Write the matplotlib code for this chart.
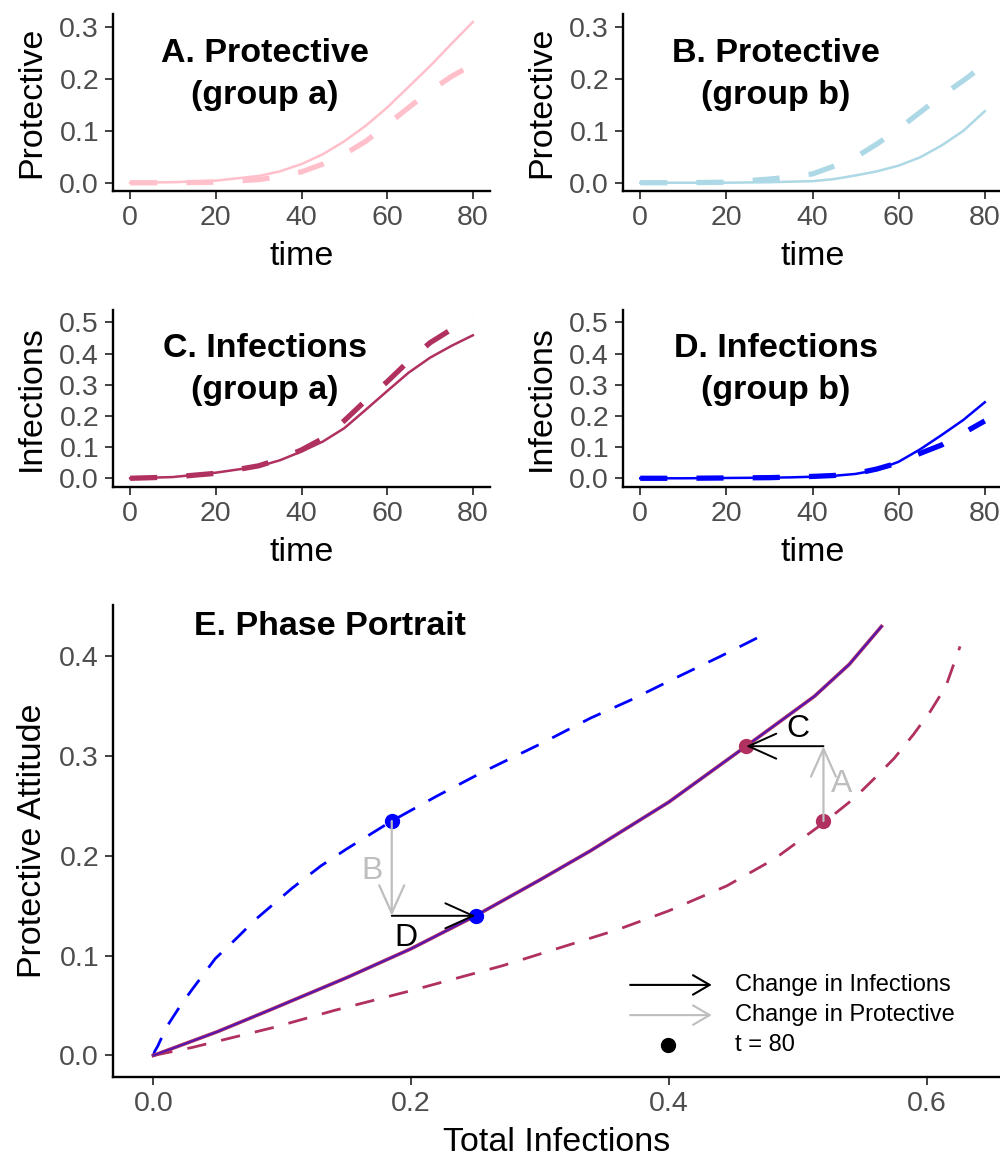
import matplotlib
matplotlib.use('Agg')
import matplotlib.pyplot as plt
from matplotlib.ticker import FormatStrFormatter

plt.rcParams['font.family'] = ['Liberation Sans', 'DejaVu Sans']
plt.rcParams['lines.scale_dashes'] = False

# time-course panels
t = [0, 10, 20, 30, 35, 40, 45, 50, 55, 60, 65, 70, 75, 80]
prot_a = [0, 0.001, 0.004, 0.013, 0.022, 0.036, 0.055, 0.08, 0.11, 0.145, 0.185, 0.225, 0.268, 0.31]
prot_a_dash = [0, 0.0, 0.001, 0.006, 0.012, 0.021, 0.036, 0.055, 0.08, 0.112, 0.145, 0.177, 0.205, 0.228]
prot_b = [0, 0, 0, 0.001, 0.002, 0.003, 0.007, 0.014, 0.022, 0.033, 0.049, 0.072, 0.10, 0.138]
prot_b_dash = [0, 0, 0.001, 0.007, 0.011, 0.017, 0.032, 0.049, 0.075, 0.104, 0.136, 0.168, 0.197, 0.228]
inf_a = [0, 0.004, 0.018, 0.038, 0.058, 0.086, 0.118, 0.161, 0.22, 0.28, 0.339, 0.387, 0.425, 0.459]
inf_a_dash = [0, 0.004, 0.016, 0.04, 0.062, 0.091, 0.128, 0.185, 0.25, 0.31, 0.376, 0.435, 0.478, 0.522]
inf_b = [0, 0, 0.001, 0.002, 0.003, 0.005, 0.008, 0.014, 0.027, 0.053, 0.093, 0.139, 0.187, 0.244]
inf_b_dash = [0, 0, 0.001, 0.002, 0.004, 0.006, 0.009, 0.015, 0.03, 0.05, 0.08, 0.107, 0.145, 0.184]

# phase portrait
sym_x = [0, 0.05, 0.093, 0.15, 0.2, 0.25, 0.3, 0.339, 0.4, 0.46, 0.513, 0.54, 0.565]
sym_y = [0, 0.024, 0.047, 0.078, 0.107, 0.14, 0.176, 0.205, 0.254, 0.31, 0.36, 0.392, 0.43]
b_x = [0, 0.001, 0.0034, 0.01, 0.021, 0.03, 0.048, 0.065, 0.079, 0.108, 0.13, 0.15, 0.185,
       0.22, 0.257, 0.3, 0.339, 0.37, 0.403, 0.44, 0.474]
b_y = [0, 0.004, 0.0093, 0.028, 0.05, 0.066, 0.097, 0.118, 0.136, 0.168, 0.19, 0.207, 0.235,
       0.26, 0.285, 0.312, 0.338, 0.356, 0.377, 0.4, 0.422]
a_x = [0, 0.03, 0.093, 0.14, 0.2, 0.271, 0.36, 0.4, 0.445, 0.482, 0.52, 0.544, 0.559, 0.575,
       0.59, 0.603, 0.615, 0.626]
a_y = [0, 0.008, 0.028, 0.045, 0.065, 0.09, 0.126, 0.145, 0.17, 0.197, 0.233, 0.258, 0.277, 0.298,
       0.322, 0.345, 0.37, 0.41]

# t = 80 points
pt_b_het = (0.185, 0.235)
pt_b_sym = (0.25, 0.14)
pt_a_sym = (0.46, 0.31)
pt_a_het = (0.52, 0.235)

PINK = '#FFC0CB'
LBLUE = '#ADD8E6'
MAROON = '#B03060'
BLUE = '#0000FF'
GREY = '#BEBEBE'
TICKC = '#4D4D4D'

TICK_FS = 20.5
LAB_FS = 24.5
TITLE_FS = 24.5


def style_axis(ax, ylabel, xlabel):
    for s in ['top', 'right']:
        ax.spines[s].set_visible(False)
    for s in ['left', 'bottom']:
        ax.spines[s].set_linewidth(1.7)
    ax.tick_params(axis='both', which='major', length=6, width=1.3, color='#333333',
                   labelsize=TICK_FS, labelcolor=TICKC, pad=4)
    ax.set_ylabel(ylabel, fontsize=LAB_FS, labelpad=9)
    ax.set_xlabel(xlabel, fontsize=LAB_FS, labelpad=7)


fig = plt.figure(figsize=(10, 11.59), dpi=100)

panels = [
    ([0.113, 0.8352, 0.377, 0.1527], prot_a, prot_a_dash, PINK, 'Protective', 'A. Protective\n(group a)', (-0.016, 0.3255), [0, 0.1, 0.2, 0.3], 0.209),
    ([0.623, 0.8352, 0.379, 0.1527], prot_b, prot_b_dash, LBLUE, 'Protective', 'B. Protective\n(group b)', (-0.016, 0.3255), [0, 0.1, 0.2, 0.3], 0.209),
    ([0.113, 0.5798, 0.377, 0.1527], inf_a, inf_a_dash, MAROON, 'Infections', 'C. Infections\n(group a)', (-0.028, 0.54), [0, 0.1, 0.2, 0.3, 0.4, 0.5], 0.349),
    ([0.623, 0.5798, 0.379, 0.1527], inf_b, inf_b_dash, BLUE, 'Infections', 'D. Infections\n(group b)', (-0.028, 0.54), [0, 0.1, 0.2, 0.3, 0.4, 0.5], 0.349),
]

for rect, solid, dashed, col, ylab, title, ylim, yticks, ty in panels:
    ax = fig.add_axes(rect)
    ax.plot(t, solid, color=col, lw=1.8)
    ax.plot(t, dashed, color=col, lw=3.8, dashes=(19.5, 21), solid_capstyle='butt')
    ax.set_xlim(-4, 84)
    ax.set_ylim(*ylim)
    ax.set_xticks([0, 20, 40, 60, 80])
    ax.set_yticks(yticks)
    ax.yaxis.set_major_formatter(FormatStrFormatter('%.1f'))
    style_axis(ax, ylab, 'time')
    ax.text(31.5, ty, title, ha='center', va='center', fontsize=TITLE_FS,
            fontweight='bold', linespacing=1.45)

# E. phase portrait
ax = fig.add_axes([0.113, 0.0708, 0.887, 0.4072])
ax.plot(b_x, b_y, color=BLUE, lw=2.0, dashes=(14, 11))
ax.plot(a_x, a_y, color=MAROON, lw=2.0, dashes=(14, 11))
ax.plot(sym_x, sym_y, color=MAROON, lw=2.6)
ax.plot(sym_x, sym_y, color=BLUE, lw=1.3, alpha=0.55)

arrow_kw = dict(shrinkA=0, shrinkB=0, mutation_scale=20)
head = '->, head_length=1.0, head_width=0.45'
# group a: protective change (A) then infection change (C)
ax.annotate('', xy=(pt_a_het[0], pt_a_sym[1]), xytext=pt_a_het,
            arrowprops=dict(arrowstyle=head, color=GREY, lw=1.6, **arrow_kw))
ax.annotate('', xy=pt_a_sym, xytext=(pt_a_het[0], pt_a_sym[1]),
            arrowprops=dict(arrowstyle=head, color='black', lw=1.4, **arrow_kw))
# group b: protective change (B) then infection change (D)
ax.annotate('', xy=(pt_b_het[0], pt_b_sym[1]), xytext=pt_b_het,
            arrowprops=dict(arrowstyle=head, color=GREY, lw=1.6, **arrow_kw))
ax.annotate('', xy=pt_b_sym, xytext=(pt_b_het[0], pt_b_sym[1]),
            arrowprops=dict(arrowstyle=head, color='black', lw=1.4, **arrow_kw))

ax.plot([pt_b_het[0], pt_b_sym[0]], [pt_b_het[1], pt_b_sym[1]], 'o', color=BLUE, ms=10, ls='none')
ax.plot([pt_a_sym[0], pt_a_het[0]], [pt_a_sym[1], pt_a_het[1]], 'o', color=MAROON, ms=10, ls='none')

ax.text(0.534, 0.272, 'A', color=GREY, fontsize=23, ha='center', va='center')
ax.text(0.170, 0.185, 'B', color=GREY, fontsize=23, ha='center', va='center')
ax.text(0.500, 0.327, 'C', color='black', fontsize=23, ha='center', va='center')
ax.text(0.196, 0.118, 'D', color='black', fontsize=23, ha='center', va='center')

ax.text(0.137, 0.43, 'E. Phase Portrait', ha='center', va='center', fontsize=TITLE_FS, fontweight='bold')

# legend drawn by hand in axes coordinates
leg_x0, leg_x1, leg_tx = 0.583, 0.675, 0.701
leg_head = '->, head_length=0.6, head_width=0.35'
for yy, col, lab in [(0.195, 'black', 'Change in Infections'), (0.131, GREY, 'Change in Protective')]:
    ax.annotate('', xy=(leg_x1, yy), xytext=(leg_x0, yy), xycoords='axes fraction',
                arrowprops=dict(arrowstyle=leg_head, color=col, lw=1.5, **arrow_kw))
    ax.text(leg_tx, yy, lab, transform=ax.transAxes, fontsize=17, va='center')
ax.plot([0.626], [0.068], 'o', color='black', ms=10, transform=ax.transAxes)
ax.text(leg_tx, 0.068, 't = 80', transform=ax.transAxes, fontsize=17, va='center')

ax.set_xlim(-0.0313, 0.657)
ax.set_ylim(-0.0215, 0.4515)
ax.set_xticks([0, 0.2, 0.4, 0.6])
ax.set_yticks([0, 0.1, 0.2, 0.3, 0.4])
ax.xaxis.set_major_formatter(FormatStrFormatter('%.1f'))
ax.yaxis.set_major_formatter(FormatStrFormatter('%.1f'))
style_axis(ax, 'Protective Attitude', 'Total Infections')
ax.yaxis.labelpad = 8

plt.savefig('out.png', dpi=100)
